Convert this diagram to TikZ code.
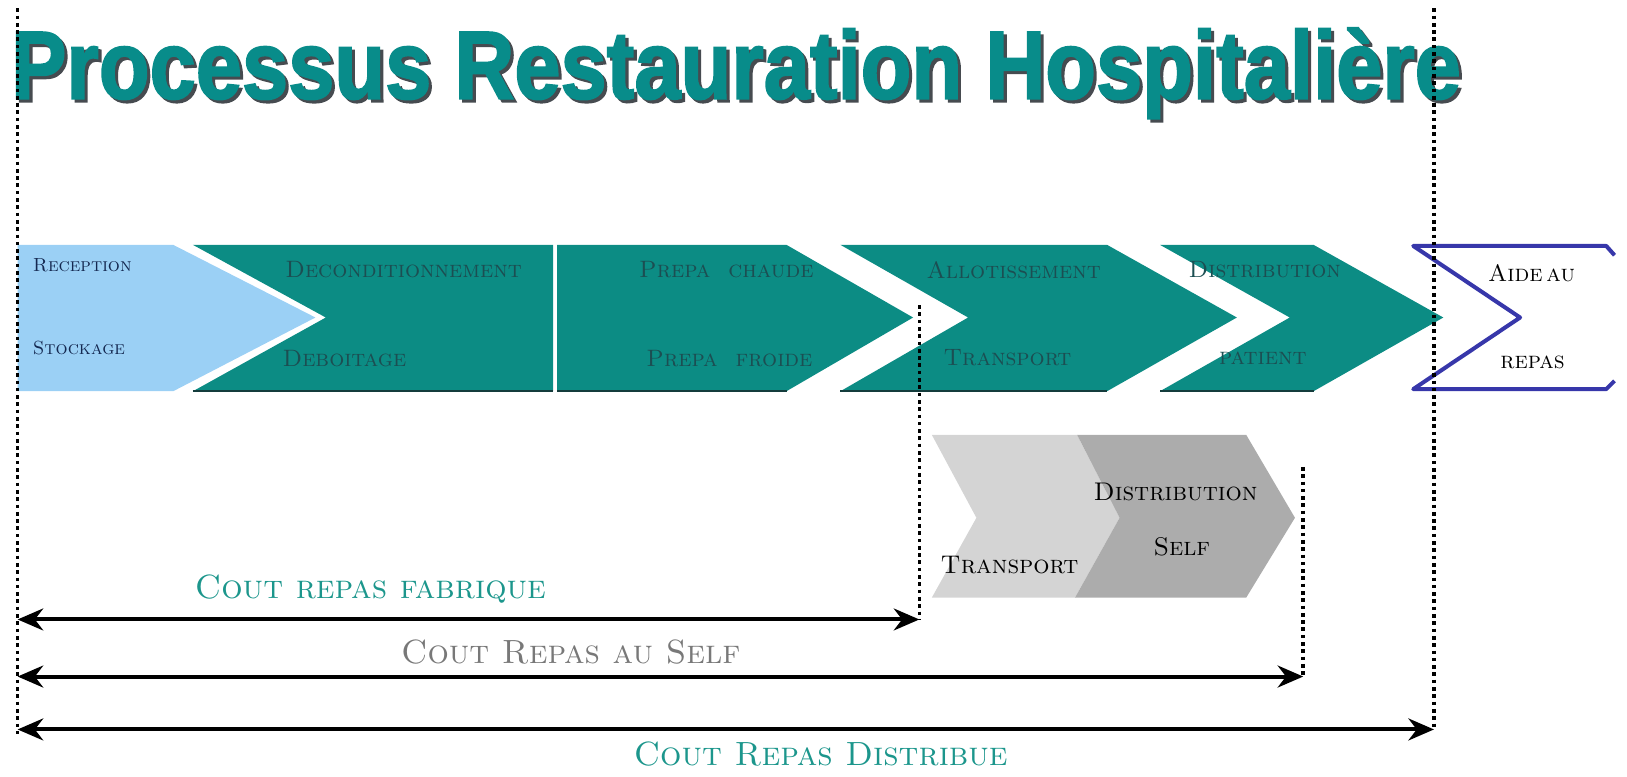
\documentclass[tikz,border=0pt]{standalone}
\usepackage{fontspec}
\usepackage{graphicx}
\usepackage{xcolor}
\usetikzlibrary{arrows.meta}

\newfontfamily\titlefont[FakeBold=2]{Liberation Sans}

\definecolor{titleteal}{RGB}{8,140,138}
\definecolor{titleshade}{RGB}{70,75,80}
\definecolor{skyfill}{RGB}{155,208,245}
\definecolor{tealfill}{RGB}{12,140,132}
\definecolor{tealedge}{RGB}{20,60,60}
\definecolor{tealdark}{RGB}{28,78,82}
\definecolor{navytext}{RGB}{20,40,80}
\definecolor{greylight}{RGB}{212,212,212}
\definecolor{greydark}{RGB}{172,172,172}
\definecolor{aideblue}{RGB}{55,55,170}
\definecolor{costteal}{RGB}{28,150,140}
\definecolor{costgrey}{RGB}{120,120,120}

\newcommand{\proctitle}{\titlefont\bfseries\fontsize{23}{26}\selectfont\scalebox{0.99}[1.15]{Processus Restauration Hospitalière}}

\begin{document}
\begin{tikzpicture}[x=0.01cm, y=-0.01cm,
    lbl/.style={font=\fontsize{6.5}{7}\selectfont\scshape, text=tealdark, inner sep=0pt},
    greylbl/.style={font=\fontsize{7}{8}\selectfont\scshape, text=black, inner sep=0pt},
    costlbl/.style={font=\fontsize{9.2}{11}\selectfont\scshape, inner sep=0pt},
    dotline/.style={densely dotted, line width=1pt},
    costarrow/.style={{Stealth[length=7pt,width=6pt]}-{Stealth[length=7pt,width=6pt]}, line width=1.1pt}]
\useasboundingbox (0,0) rectangle (1568,748);

% Title with shadow
\node[anchor=base west, inner sep=0pt, text=titleshade] (titleshd) at (13,98) {\proctitle};
\node[anchor=base west, inner sep=0pt, text=titleteal] (title) at (10,95) {\proctitle};

% Reception / Stockage
\fill[skyfill] (17,236) -- (167,236) -- (304,306) -- (167,377) -- (17,377) -- cycle;
\node[lbl, text=navytext, anchor=west, font=\fontsize{5.2}{6}\selectfont\scshape] (rec) at (31,256) {Reception};
\node[lbl, text=navytext, anchor=west, font=\fontsize{5.2}{6}\selectfont\scshape] (sto) at (31,335) {Stockage};

% Deconditionnement / Deboitage
\fill[tealfill] (186,236) -- (533,236) -- (533,377) -- (186,377) -- (314,306) -- cycle;
\draw[tealedge, line width=0.6pt] (186,377) -- (533,377);
\node[lbl] (dec) at (389,260) {Deconditionnement};
\node[lbl] (deb) at (332,346) {Deboitage};

% Prepa chaude / Prepa froide
\fill[tealfill] (537,236) -- (758,236) -- (880,306) -- (758,377) -- (537,377) -- cycle;
\draw[tealedge, line width=0.6pt] (537,377) -- (758,377);
\node[lbl] (pch) at (700,260) {Prepa\ \ chaude};
\node[lbl] (pfr) at (703,346) {Prepa\ \ froide};

% Allotissement / Transport
\fill[tealfill] (810,236) -- (1067,236) -- (1192,306) -- (1067,377) -- (810,377) -- (933,306) -- cycle;
\draw[tealedge, line width=0.6pt] (810,377) -- (1067,377);
\node[lbl] (allo) at (977,260) {Allotissement};
\node[lbl] (trp) at (971,345) {Transport};

% Distribution patient
\fill[tealfill] (1118,236) -- (1266,236) -- (1391,306) -- (1266,377) -- (1118,377) -- (1243,306) -- cycle;
\draw[tealedge, line width=0.6pt] (1118,377) -- (1266,377);
\node[lbl] (dist) at (1219,260) {Distribution};
\node[lbl] (pat) at (1217,345) {patient};

% Aide au repas
\draw[aideblue, line width=1.1pt, line join=round] (1556,246) -- (1548,237) -- (1362,237) -- (1465,306) -- (1362,375) -- (1548,375) -- (1556,367);
\node[lbl, text=black] (aide) at (1476,263) {Aide\,au};
\node[lbl, text=black] (rep) at (1477,349) {repas};

% Transport / Distribution self
\fill[greylight] (898,419) -- (1038,419) -- (1079,499) -- (1036,576) -- (898,576) -- (941,499) -- cycle;
\fill[greydark] (1038,419) -- (1201,419) -- (1248,499) -- (1201,576) -- (1036,576) -- (1079,499) -- cycle;
\node[greylbl] (dself) at (1133,474) {Distribution};
\node[greylbl] (self) at (1139,527) {Self};
\node[greylbl] (trs) at (973,545) {Transport};

% Markers
\coordinate (top0) at (17,8);
\coordinate (bot0) at (17,708);
\coordinate (fab0) at (886,294);
\coordinate (fab1) at (886,597);
\coordinate (slf0) at (1256,450);
\coordinate (slf1) at (1256,652);
\coordinate (dis0) at (1382,8);
\coordinate (dis1) at (1382,703);
\coordinate (lft1) at (17,597);
\coordinate (lft2) at (17,652);
\coordinate (lft3) at (17,703);

\draw[dotline] (top0) -- (bot0);
\draw[dotline] (fab0) -- (fab1);
\draw[dotline] (slf0) -- (slf1);
\draw[dotline] (dis0) -- (dis1);

% Cost arrows
\draw[costarrow] (lft1) -- (fab1);
\draw[costarrow] (lft2) -- (slf1);
\draw[costarrow] (lft3) -- (dis1);

\node[costlbl, text=costteal] (cfab) at (357,568) {Cout repas fabrique};
\node[costlbl, text=costgrey] (cself) at (550,628) {Cout Repas au Self};
\node[costlbl, text=costteal] (cdist) at (791,727) {Cout Repas Distribue};
\end{tikzpicture}
\end{document}
